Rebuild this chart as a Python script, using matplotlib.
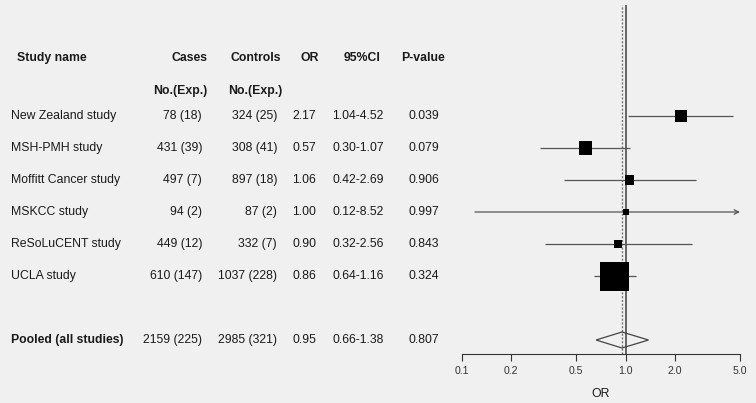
import numpy as np
import matplotlib
matplotlib.use("Agg")
import matplotlib.pyplot as plt
from matplotlib.ticker import FixedLocator, FixedFormatter, NullLocator

# ---------------- data ----------------
studies = ["New Zealand study", "MSH-PMH study", "Moffitt Cancer study",
           "MSKCC study", "ReSoLuCENT study", "UCLA study"]
cases = ["78 (18)", "431 (39)", "497 (7)", "94 (2)", "449 (12)", "610 (147)"]
controls = ["324 (25)", "308 (41)", "897 (18)", "87 (2)", "332 (7)", "1037 (228)"]
odds = [2.17, 0.57, 1.06, 1.00, 0.90, 0.86]
lower = [1.04, 0.30, 0.42, 0.12, 0.32, 0.64]
upper = [4.52, 1.07, 2.69, 8.52, 2.56, 1.16]
pvals = ["0.039", "0.079", "0.906", "0.997", "0.843", "0.324"]

pooled_label = "Pooled (all studies)"
pooled_cases = "2159 (225)"
pooled_controls = "2985 (321)"
pooled_or = 0.95
pooled_lower = 0.66
pooled_upper = 1.38
pooled_p = "0.807"

tick_values = [0.1, 0.2, 0.5, 1.0, 2.0, 5.0]
tick_labels = ["0.1", "0.2", "0.5", "1.0", "2.0", "5.0"]

# ---------------- layout ----------------
W, H = 756, 403
BG = "#f0f0f0"
TXT = "#1a1a1a"
plt.rcParams['font.family'] = ['Liberation Sans', 'DejaVu Sans']

fig = plt.figure(figsize=(W / 100, H / 100), dpi=100, facecolor=BG)

row_px0, row_step = 116, 32
top_px, bot_px = 5, 354
ylo = (row_px0 - bot_px) / row_step
yhi = (row_px0 - top_px) / row_step
ax_bottom = (H - bot_px) / H
ax_height = (bot_px - top_px) / H

ax_t = fig.add_axes([0, ax_bottom, 462 / W, ax_height])
ax_t.set_xlim(0, 462)
ax_t.set_ylim(ylo, yhi)
ax_t.axis("off")
ax_t.patch.set_alpha(0)

ax = fig.add_axes([462 / W, ax_bottom, 278 / W, ax_height])
ax.set_facecolor(BG)
ax.patch.set_alpha(0)
ax.set_xscale("log")
ax.set_xlim(tick_values[0], tick_values[-1])
ax.set_ylim(ylo, yhi)

fs = 8.8
rows_y = -np.arange(len(studies))
pooled_y = -7
head1_y = (row_px0 - 58) / row_step
head2_y = (row_px0 - 91) / row_step

# header
hkw = dict(fontsize=fs, fontweight="bold", color=TXT, va="center")
ax_t.text(17, head1_y, "Study name", ha="left", **hkw)
ax_t.text(207, head1_y, "Cases", ha="right", **hkw)
ax_t.text(281, head1_y, "Controls", ha="right", **hkw)
ax_t.text(310, head1_y, "OR", ha="center", **hkw)
ax_t.text(362, head1_y, "95%CI", ha="center", **hkw)
ax_t.text(423, head1_y, "P-value", ha="center", **hkw)
ax_t.text(207, head2_y, "No.(Exp.)", ha="right", **hkw)
ax_t.text(282, head2_y, "No.(Exp.)", ha="right", **hkw)

def table_row(y, name, cs, ct, o, lo, hi, p, bold=False):
    kw = dict(fontsize=fs, color=TXT, va="center")
    ax_t.text(11, y, name, ha="left", fontweight="bold" if bold else "normal", **kw)
    ax_t.text(202, y, cs, ha="right", **kw)
    ax_t.text(277, y, ct, ha="right", **kw)
    ax_t.text(316, y, f"{o:.2f}", ha="right", **kw)
    ax_t.text(358, y, f"{lo:.2f}-{hi:.2f}", ha="center", **kw)
    ax_t.text(424, y, p, ha="center", **kw)

for i in range(len(studies)):
    table_row(rows_y[i], studies[i], cases[i], controls[i], odds[i], lower[i], upper[i], pvals[i])
table_row(pooled_y, pooled_label, pooled_cases, pooled_controls,
          pooled_or, pooled_lower, pooled_upper, pooled_p, bold=True)

# reference lines
ax.axvline(1.0, color="#5a5a5a", lw=1.3, zorder=1)
ax.axvline(pooled_or, color="#777777", lw=1.0, ls=(0, (1.5, 1.2)), zorder=1)

# CI lines
xmin, xmax = ax.get_xlim()
ci_col = "#555555"
for i in range(len(studies)):
    y = rows_y[i]
    if upper[i] > xmax:
        ax.annotate("", xy=(xmax, y), xytext=(lower[i], y),
                    arrowprops=dict(arrowstyle="->", color=ci_col, lw=0.9,
                                    shrinkA=0, shrinkB=0, mutation_scale=8),
                    annotation_clip=False, zorder=2)
    else:
        ax.plot([lower[i], upper[i]], [y, y], color=ci_col, lw=0.9, zorder=2,
                solid_capstyle="butt")

# boxes: side proportional to inverse standard error
se = (np.log(upper) - np.log(lower)) / (2 * 1.96)
inv = 1 / se
side_px = np.maximum(29 * inv / inv.max(), 6)
ax.scatter(odds, rows_y, marker="s", s=(side_px * 0.72) ** 2, color="black",
           linewidths=0, zorder=3)

# pooled diamond
dh = 8 / row_step
ax.fill([pooled_lower, pooled_or, pooled_upper, pooled_or],
        [pooled_y, pooled_y + dh, pooled_y, pooled_y - dh],
        facecolor="none", edgecolor="#444444", lw=0.9, zorder=3)

# axis
for s in ["top", "right", "left"]:
    ax.spines[s].set_visible(False)
ax.spines["bottom"].set_color("#333333")
ax.spines["bottom"].set_linewidth(0.8)
ax.yaxis.set_visible(False)
ax.xaxis.set_major_locator(FixedLocator(tick_values))
ax.xaxis.set_major_formatter(FixedFormatter(tick_labels))
ax.xaxis.set_minor_locator(NullLocator())
ax.tick_params(axis="x", direction="out", length=5, width=0.8, colors="#333333",
               labelsize=7.6, pad=4)
ax.set_xlabel("OR", fontsize=fs, color=TXT, labelpad=8)

fig.savefig("out.png", dpi=100, facecolor=BG)
